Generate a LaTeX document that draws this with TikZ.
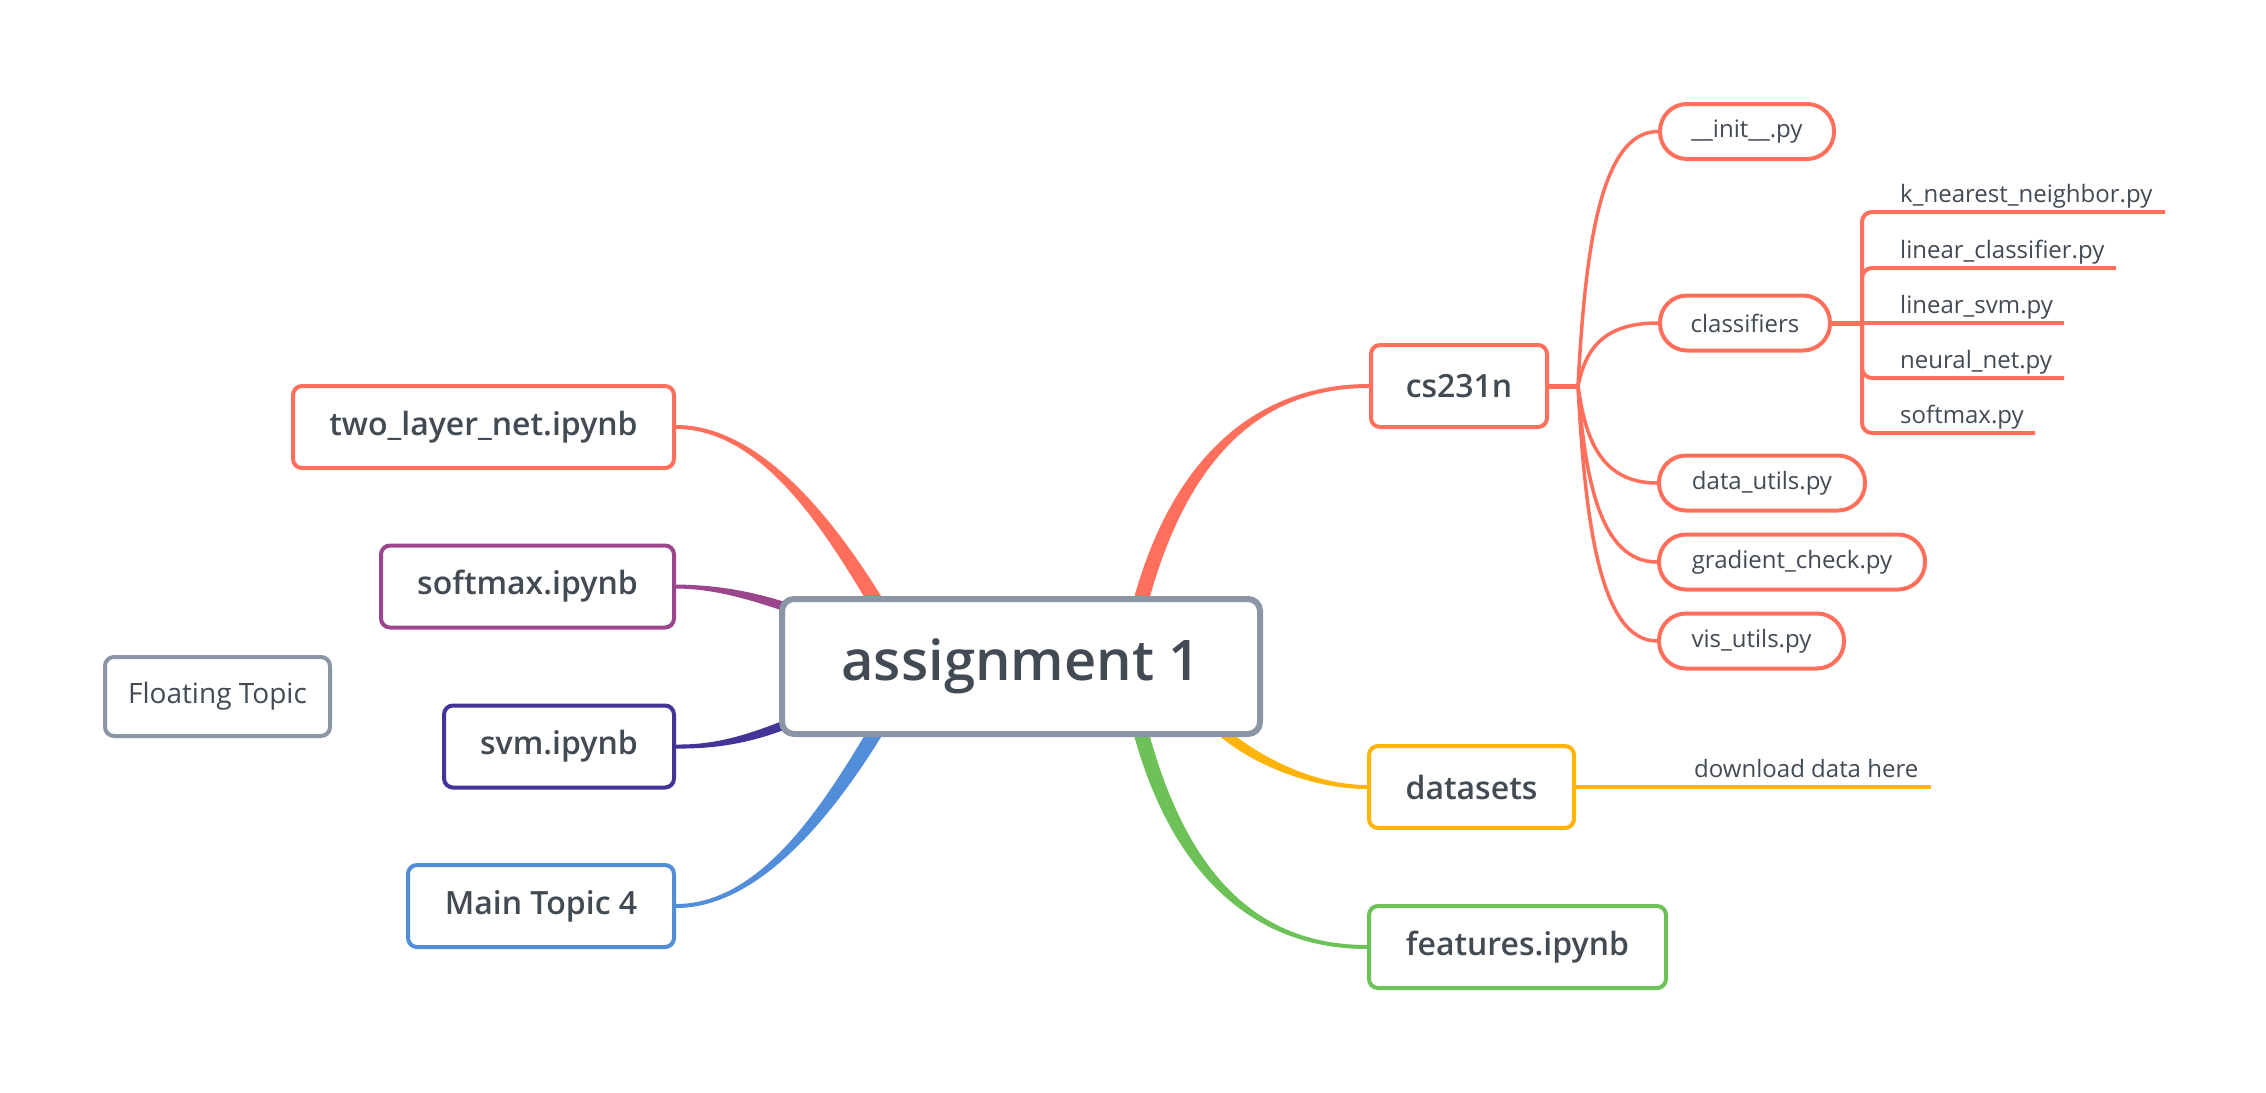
\documentclass[tikz,border=0pt]{standalone}
\usepackage{fontspec}
\setmainfont{Open Sans}
\IfFontExistsTF{Open Sans SemiBold}{\newfontfamily\semib{Open Sans SemiBold}}{%
  \IfFontExistsTF{Open Sans Semibold}{\newfontfamily\semib{Open Sans Semibold}}{%
    \newfontfamily\semib{Open Sans}[FakeBold=1.2]}}
\usetikzlibrary{calc}
\pgfdeclarelayer{bg}
\pgfsetlayers{bg,main}
\definecolor{coral}{HTML}{FF6F5C}
\definecolor{plum}{HTML}{9B468C}
\definecolor{indigo}{HTML}{433498}
\definecolor{skyblue}{HTML}{528DDA}
\definecolor{leaf}{HTML}{6CC256}
\definecolor{amber}{HTML}{FFB40A}
\definecolor{slate}{HTML}{8A95A6}
\definecolor{txt}{HTML}{424A54}
\tikzset{
  topic/.style={draw, line width=4pt, rounded corners=9pt, fill=white, text=txt,
    font=\fontsize{32}{36}\selectfont\semib, inner sep=0pt, minimum height=82pt},
  subtopic/.style={draw=coral, line width=4pt, rounded corners=27pt, fill=white, text=txt,
    font=\fontsize{24}{28}\selectfont, inner sep=0pt, minimum height=55pt},
  leaftext/.style={anchor=base west, text=txt, font=\fontsize{24}{28}\selectfont, inner sep=0pt},
  thinlink/.style={draw=coral, line width=3.5pt},
  underline/.style={line width=4pt, rounded corners=10pt},
}
% tapered connector: #1 colour, #2 P0, #3 P1, #4 P2, #5 P3, #6 half width at P0, #7 half width at P3
\newcommand\tapercurve[7]{%
  \fill[#1] ($(#2)!#6!90:(#3)$) .. controls ($(#3)!#6!-90:(#2)$) and ($(#4)!#7!90:(#5)$) .. ($(#5)!#7!-90:(#4)$)
    -- ($(#5)!#7!90:(#4)$) .. controls ($(#4)!#7!-90:(#5)$) and ($(#3)!#6!90:(#2)$) .. ($(#2)!#6!-90:(#3)$) -- cycle;
}
\begin{document}
\begin{tikzpicture}[x=1pt,y=-1pt]
\useasboundingbox (0,0) rectangle (2266,1092);
% central
\node[topic, draw=slate, line width=6pt, rounded corners=12pt, minimum width=478pt, minimum height=135pt,
  font=\fontsize{56}{60}\selectfont\semib] (root) at (1021,666.5) {assignment 1};
% left main topics
\node[topic, draw=coral, minimum width=381pt] (two) at (483.5,427) {two\_layer\_net.ipynb};
\node[topic, draw=plum, minimum width=293pt] (soft) at (527.5,586.5) {softmax.ipynb};
\node[topic, draw=indigo, minimum width=230pt] (svm) at (559,746.5) {svm.ipynb};
\node[topic, draw=skyblue, minimum width=266pt] (mt) at (541,906) {Main Topic 4};
\node[topic, draw=slate, minimum width=225pt, minimum height=79pt, font=\fontsize{28}{32}\selectfont] (float) at (217.5,696.5) {Floating Topic};
% right main topics
\node[topic, draw=coral, minimum width=176pt] (cs) at (1459,386) {cs231n};
\node[topic, draw=amber, minimum width=205pt] (data) at (1471.5,787) {datasets};
\node[topic, draw=leaf, minimum width=297pt] (feat) at (1517.5,947) {features.ipynb};
% cs231n subtopics
\node[subtopic, minimum width=174pt] (init) at (1747,131.5) {\_\_init\_\_.py};
\node[subtopic, minimum width=170pt] (cls) at (1745,323) {classifiers};
\node[subtopic, minimum width=206pt] (du) at (1762,483) {data\_utils.py};
\node[subtopic, minimum width=266pt] (gc) at (1792,562) {gradient\_check.py};
\node[subtopic, minimum width=185pt] (vu) at (1751.5,641) {vis\_utils.py};
% classifier leaves
\node[leaftext] (knn) at (1900,202.5) {k\_nearest\_neighbor.py};
\node[leaftext] (lc) at (1900,258.5) {linear\_classifier.py};
\node[leaftext] (ls) at (1900,313.5) {linear\_svm.py};
\node[leaftext] (nn) at (1900,368.5) {neural\_net.py};
\node[leaftext] (sm) at (1900,423.5) {softmax.py};
\node[leaftext] (dl) at (1694,777) {download data here};
% coordinates
\coordinate (hub) at (1578,386);
\coordinate (bracket) at (1862,323);
\begin{pgfonlayer}{bg}
\fill[white] (0,0) rectangle (2266,1092);
\tapercurve{coral}{two.east}{766,427}{837,537}{882,612}{2pt}{7.5pt}
\tapercurve{plum}{soft.east}{716,587}{750,595}{792,609}{2pt}{4.5pt}
\tapercurve{indigo}{svm.east}{716,747}{750,739}{792,722}{2pt}{4.5pt}
\tapercurve{skyblue}{mt.east}{766,906}{837,796}{882,721}{2pt}{7.5pt}
\tapercurve{coral}{cs.west}{1267,386}{1180,447}{1138,612}{2pt}{7.5pt}
\tapercurve{amber}{data.west}{1320,787}{1262,766}{1220,730}{2pt}{5pt}
\tapercurve{leaf}{feat.west}{1260,947}{1178,880}{1138,721}{2pt}{7.5pt}
% cs231n branch
\draw[coral, line width=5pt] (cs.east) -- (hub);
\draw[thinlink] (hub) .. controls (1585,251) and (1600,131.5) .. (init.west);
\draw[thinlink] (hub) .. controls (1585,352.6) and (1600,323) .. (cls.west);
\draw[thinlink] (hub) .. controls (1585,437) and (1600,483) .. (du.west);
\draw[thinlink] (hub) .. controls (1585,479) and (1600,562) .. (gc.west);
\draw[thinlink] (hub) .. controls (1585,521) and (1600,641) .. (vu.west);
% classifiers bracket
\draw[coral, line width=5pt] (cls.east) -- (bracket);
\draw[coral, underline] (bracket) -- (1862,212) -- (2165,212);
\draw[coral, underline] (bracket) -- (1862,268) -- (2116,268);
\draw[coral, underline] (bracket) -- (2064,323);
\draw[coral, underline] (bracket) -- (1862,378) -- (2064,378);
\draw[coral, underline] (bracket) -- (1862,433) -- (2035,433);
% datasets leaf
\draw[amber, line width=4pt] (data.east) -- (1931,787);
\end{pgfonlayer}
\end{tikzpicture}
\end{document}
